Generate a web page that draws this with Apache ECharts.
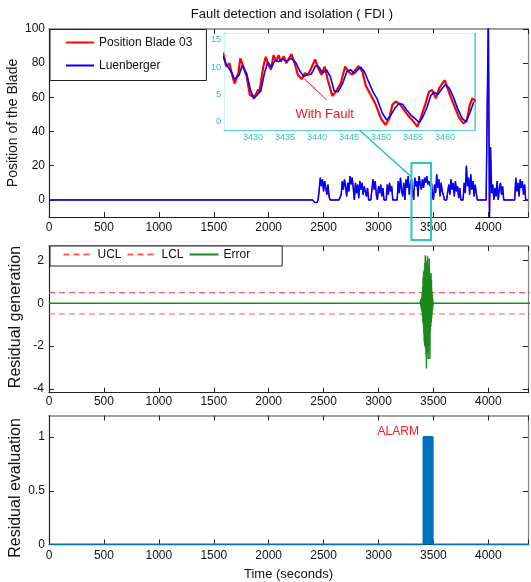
<!DOCTYPE html>
<html>
<head>
<meta charset="utf-8">
<script src="https://cdn.jsdelivr.net/npm/echarts@6/dist/echarts.min.js"></script>
<style>html,body{margin:0;padding:0;background:#fff}#c{width:531px;height:582px}</style>
</head>
<body>
<div id="c"></div>
<script>
// ---------------- DATA ----------------
const xTicks = [0, 500, 1000, 1500, 2000, 2500, 3000, 3500, 4000];
const posTickLabels = [0, 20, 40, 60, 80, 100];
const resTickLabels = [-4, -2, 0, 2];
const evalTickLabels = [0, 0.5, 1];
const insetXTicks = [3430, 3435, 3440, 3445, 3450, 3455, 3460];
const insetYTicks = [0, 5, 10, 15];

// Blade position (top panel): zero until 2400 s, then sampled every 10 s
const bladeStart = 2400, bladeStep = 10;
const bladePosition = [
  0, 0, -1.5, -1, -1.5, 0, 6, 13, 8, 12,
  5, 11, 7, 3, 9, 2, 0, 0, 0, 0,
  0, 0, 0, 0, 0, 0, 3, 11, 6, 12,
  8, 2, 10, 5, 14, 9, 13, 7, 0, 10,
  4, 9, 1, 11, 6, 10, 3, 8, 5, 2,
  7, 0, 0, 0, 0, 12, 6, 11, 3, 0,
  8, 4, 9, 2, 7, 0, 0, 0, 9, 3,
  10, 5, 8, 0, 0, 0, 0, 0, 11, 4,
  13, 6, 2, 10, 0, 12, 7, 14, 3, 9,
  12, 5, 0, 13, 8, 11, 2, 14, 9, 6,
  12, 7, 13, 10, 14, 9, 11, 8, 12, 3,
  0, 9, 4, 15, 7, 12, 2, 10, 5, 3,
  0, 0, 0, 0, 9, 3, 12, 6, 10, 2,
  11, 5, 8, 1, 7, 0, 0, 0, 10, 4,
  20, 8, 13, 3, 15, 6, 11, 2, 9, 4,
  0, 0, 0, 0, 0, 0, 0, 0, 0, 0,
  110, -12, 31, 4, 9, 0, 7, 2, 11, 0,
  6, 10, 3, 8, 0, 0, 0, 0, 0, 0,
  0, 0, 0, 0, 0, 13, 5, 10, 2, 12,
  7, 11, 3, 9, 0, 0, 0
];

// Inset (zoom on 3425–3465 s)
const insetPosTime = [3425.3,3425.8,3426.3,3426.6,3427.1,3427.7,3428.0,3428.3,3429.0,3429.5,3430.0,3430.4,3430.8,3431.0,3431.6,3432.0,3432.4,3432.8,3433.2,3433.6,3434.0,3434.3,3434.8,3435.2,3436.0,3436.5,3437.0,3437.6,3438.1,3438.6,3439.1,3439.7,3440.2,3440.7,3441.2,3441.7,3442.4,3443.1,3443.7,3444.4,3444.9,3445.5,3446.0,3446.5,3447.1,3447.6,3448.4,3449.2,3450.0,3450.7,3451.3,3451.8,3452.3,3452.9,3453.4,3454.2,3454.9,3455.7,3456.2,3457.0,3457.5,3458.0,3458.6,3459.1,3459.6,3460.0,3460.6,3461.4,3462.2,3462.9,3463.4,3463.9,3464.3,3464.8];
const insetPosValue = [12.7,10.1,10.7,9.2,7.0,8.9,11.6,10.7,8.3,4.9,4.6,4.9,5.9,5.5,10.1,11.9,10.4,9.5,12.2,11.0,12.2,11.0,12.0,10.7,12.4,10.7,8.6,7.8,8.9,8.6,9.8,11.4,9.8,8.6,10.1,7.6,4.7,5.8,7.0,10.1,9.2,8.6,9.5,10.2,9.2,6.7,4.9,3.1,0.6,-0.6,0.6,3.1,3.7,3.3,2.5,1.2,0.3,-0.9,0.6,3.4,5.5,5.8,4.3,6.1,7.0,7.6,5.5,3.1,0.8,-0.3,0.1,3.1,4.3,3.7];
const insetLuenTime = [3425.3,3425.8,3426.5,3427.1,3427.8,3428.3,3429.0,3429.6,3430.1,3430.7,3431.2,3431.8,3432.3,3432.9,3433.4,3434.0,3434.6,3435.2,3436.0,3436.7,3437.3,3437.9,3438.5,3439.1,3439.8,3440.3,3440.9,3441.5,3442.1,3442.7,3443.3,3444.0,3444.7,3445.3,3445.8,3446.3,3446.8,3447.4,3448.0,3448.7,3449.4,3450.2,3450.9,3451.5,3452.2,3452.8,3453.4,3454.0,3454.7,3455.4,3456.0,3456.6,3457.2,3457.8,3458.3,3458.9,3459.5,3460.1,3460.7,3461.3,3462.0,3462.7,3463.3,3463.9,3464.5];
const insetLuenValue = [12.0,10.5,9.3,7.8,8.5,10.3,8.8,5.8,4.2,5.0,5.6,9.0,10.9,10.0,11.2,11.0,11.5,11.1,11.6,10.8,9.3,8.3,8.6,8.7,10.3,10.0,8.9,9.5,8.2,5.6,5.5,7.0,9.3,9.5,8.8,9.4,10.0,9.2,7.5,5.6,4.2,1.6,0.3,1.1,2.5,3.3,3.2,2.2,1.2,0.5,-0.2,1.0,2.6,4.8,5.4,5.0,6.0,6.8,6.1,4.6,2.4,0.6,0.0,1.6,3.6];

// Residual (error) burst, sampled every 2 s from 3380 s; zero elsewhere
const errorStart = 3380, errorStep = 2;
const errorValue = [
  0, 0.1, -0.1, 0.2, -0.2, 0.1, -0.3, 0.3, -0.4, 0.5,
  -0.6, 0.8, -0.9, 1.2, -1.0, 1.5, -1.4, 1.3, -1.8, 1.6,
  -2.0, 1.9, -1.7, 2.25, -2.1, 1.8, -2.4, 1.7, -3.05, 1.9,
  -2.2, 2.0, -1.9, 2.2, -2.3, 1.6, -2.6, 1.8, -2.0, 1.5,
  -1.8, 2.1, -1.5, 1.4, -2.6, 1.2, -1.3, 1.0, -1.1, 1.4,
  -0.9, 1.1, -0.7, 0.6, -0.5, 0.4, -0.3, 0.2, -0.1, 0
];
const uclValue = 0.5, lclValue = -0.5;

// Residual evaluation (alarm flag)
const alarmTime = [0, 3410, 3410, 3493, 3493, 4400];
const alarmValue = [0, 0, 1, 1, 0, 0];

// annotation anchors (data coordinates)
const zoomBoxTime = [3300, 3478], zoomBoxValue = [21.6, -23.4];
const connectorInset = [3446.6, -1.52], connectorMain = [3300, 13.5];
const faultArrow = [[3441.5, 4.0], [3437.9, 8.0]];
const faultLabel = [3441.2, 1.4];
const alarmLabel = [3180, 1.05];

// ---------------- CHART ----------------
const FONT = "'Liberation Sans', Arial, sans-serif";
const CYAN = '#2CC5C5';
const BLK = '#222';

const chart = echarts.init(document.getElementById('c'), null, {renderer: 'canvas'});

const mainMax = 4361;
function xAx(grid, pos, showLabel, margin, extra) {
  return Object.assign({
    type: 'value', gridIndex: grid, position: pos, min: 0, max: mainMax, interval: 500,
    splitLine: {show: false},
    axisLine: {show: true, onZero: false, lineStyle: {color: pos === 'top' ? '#808080' : BLK, width: pos === 'top' ? 1.5 : 1.2}},
    axisTick: {show: true, inside: true, length: 5, lineStyle: {color: BLK}},
    axisLabel: {show: showLabel, margin: margin, fontSize: 12, fontFamily: FONT, color: '#111',
      formatter: v => (v > 4000 ? '' : String(v))}
  }, extra || {});
}
function yAx(grid, pos, min, max, ticks, showLabel, margin) {
  return {
    type: 'value', gridIndex: grid, position: pos, min: min, max: max,
    splitLine: {show: false},
    axisLine: {show: true, onZero: false, lineStyle: {color: pos === 'right' ? '#808080' : BLK, width: 1.2}},
    axisTick: {show: true, inside: true, length: 5, customValues: ticks, lineStyle: {color: BLK}},
    axisLabel: {show: showLabel, margin: margin, fontSize: 12, fontFamily: FONT, color: '#111', customValues: ticks,
      formatter: v => String(v)}
  };
}
function insetX(pos, showLabel) {
  return {
    type: 'value', gridIndex: 1, position: pos, min: 3425.5, max: 3464.6,
    splitLine: {show: false},
    axisLine: {show: true, onZero: false, lineStyle: {color: CYAN, width: 1.5}},
    axisTick: {show: true, inside: true, length: 4, customValues: insetXTicks, lineStyle: {color: CYAN}},
    axisLabel: {show: showLabel, margin: 3, fontSize: 9, fontFamily: FONT, color: CYAN, customValues: insetXTicks,
      formatter: v => String(v)}
  };
}
function insetY(pos, showLabel) {
  return {
    type: 'value', gridIndex: 1, position: pos, min: -1.52, max: 16.2,
    splitLine: {show: false},
    axisLine: {show: true, onZero: false, lineStyle: {color: CYAN, width: 1.5}},
    axisTick: {show: true, inside: true, length: 4, customValues: insetYTicks, lineStyle: {color: CYAN}},
    axisLabel: {show: showLabel, margin: 3, fontSize: 9.5, fontFamily: FONT, color: CYAN, customValues: insetYTicks,
      formatter: v => String(v)}
  };
}

const bladeData = [[0, 0]].concat(bladePosition.map((v, i) => [bladeStart + i * bladeStep, v]));
const errorData = [[0, 0]].concat(errorValue.map((v, i) => [errorStart + i * errorStep, v]), [[4400, 0]]);
const insetPos = insetPosTime.map((t, i) => [t, insetPosValue[i]]);
const insetLuen = insetLuenTime.map((t, i) => [t, insetLuenValue[i]]);
const alarmData = alarmTime.map((t, i) => [t, alarmValue[i]]);

const legendCommon = {
  borderColor: BLK, borderWidth: 1, backgroundColor: '#fff', borderRadius: 0,
  textStyle: {fontSize: 12, fontFamily: FONT, color: '#111'}, selectedMode: false, z: 6,
  itemStyle: {opacity: 0}
};

const option = {
  animation: false,
  backgroundColor: '#fff',
  textStyle: {fontFamily: FONT},
  title: {
    text: 'Fault detection and isolation ( FDI )', left: 292, top: 8, textAlign: 'center', padding: 0,
    textStyle: {fontSize: 13, fontWeight: 'normal', color: '#111', fontFamily: FONT}
  },
  grid: [
    {left: 49, top: 29, width: 483, height: 188},
    {left: 224.3, top: 33.3, width: 250, height: 96.7, show: true, backgroundColor: '#fff', borderWidth: 0, z: 5},
    {left: 49, top: 246, width: 483, height: 146.7},
    {left: 49, top: 415.5, width: 483, height: 130}
  ],
  legend: [
    Object.assign({
      data: ['Position Blade 03', 'Luenberger'], orient: 'vertical', left: 50, top: 29.5,
      padding: [7, 14, 9, 15], itemGap: 11, itemWidth: 28, itemHeight: 14
    }, legendCommon),
    Object.assign({
      data: ['UCL', 'LCL', 'Error'], orient: 'horizontal', left: 50, top: 246,
      padding: [2.5, 32, 5.5, 12.5], itemGap: 5, itemWidth: 29, itemHeight: 14
    }, legendCommon)
  ],
  xAxis: [
    xAx(0, 'bottom', true, 5),
    xAx(0, 'top', false, 5),
    insetX('bottom', true),
    insetX('top', false),
    xAx(2, 'bottom', true, 2.5),
    xAx(2, 'top', false, 2),
    xAx(3, 'bottom', true, 5.5, {name: 'Time (seconds)', nameLocation: 'middle', nameGap: 23.5,
      nameTextStyle: {fontSize: 13, fontFamily: FONT, color: '#111'}}),
    xAx(3, 'top', false, 2)
  ],
  yAxis: [
    yAx(0, 'left', -10, 100, posTickLabels, true, 4),
    yAx(0, 'right', -10, 100, posTickLabels, false, 4),
    insetY('left', true),
    insetY('right', false),
    yAx(2, 'left', -4.18, 2.68, resTickLabels, true, 5),
    yAx(2, 'right', -4.18, 2.68, resTickLabels, false, 5),
    yAx(3, 'left', 0, 1.2, evalTickLabels, true, 4),
    yAx(3, 'right', 0, 1.2, evalTickLabels, false, 4)
  ],
  series: [
    {name: 'Position Blade 03', type: 'line', xAxisIndex: 0, yAxisIndex: 0, data: bladeData, symbol: 'none',
      lineStyle: {color: '#FF0000', width: 1.1}, itemStyle: {color: '#FF0000'}, z: 2},
    {name: 'Luenberger', type: 'line', xAxisIndex: 0, yAxisIndex: 0, data: bladeData, symbol: 'none',
      lineStyle: {color: '#0000FF', width: 1.5}, itemStyle: {color: '#0000FF'}, z: 3},
    {name: 'insetPosition', type: 'line', xAxisIndex: 2, yAxisIndex: 2, data: insetPos, symbol: 'none',
      lineStyle: {color: '#FF0000', width: 2.2}, z: 6,
      markPoint: {symbol: 'circle', symbolSize: 1, itemStyle: {color: 'rgba(0,0,0,0)'},
        label: {show: true, position: 'inside', formatter: 'With Fault', color: '#F01818', fontSize: 13, fontFamily: FONT},
        data: [{coord: faultLabel}]},
      markLine: {silent: true, symbol: ['none', 'arrow'], symbolSize: [0, 8], label: {show: false},
        lineStyle: {color: '#F01818', width: 1, type: 'solid'},
        data: [[{coord: faultArrow[0]}, {coord: faultArrow[1]}]]}},
    {name: 'insetLuenberger', type: 'line', xAxisIndex: 2, yAxisIndex: 2, data: insetLuen, symbol: 'none',
      lineStyle: {color: '#0000FF', width: 1.6}, z: 7},
    {name: 'UCL', type: 'line', xAxisIndex: 4, yAxisIndex: 4, data: [[0, uclValue], [4400, uclValue]], symbol: 'none',
      lineStyle: {color: '#FF5A5A', width: 1.2, type: [6, 4]}, itemStyle: {color: '#FF5A5A'}},
    {name: 'LCL', type: 'line', xAxisIndex: 4, yAxisIndex: 4, data: [[0, lclValue], [4400, lclValue]], symbol: 'none',
      lineStyle: {color: '#FF5A5A', width: 1.2, type: [6, 4]}, itemStyle: {color: '#FF5A5A'}},
    {name: 'Error', type: 'line', xAxisIndex: 4, yAxisIndex: 4, data: errorData, symbol: 'none',
      lineStyle: {color: '#1A8A1A', width: 1.5}, itemStyle: {color: '#1A8A1A'}, z: 3},
    {name: 'Alarm', type: 'line', xAxisIndex: 6, yAxisIndex: 6, data: alarmData, symbol: 'none',
      lineStyle: {color: '#0072BD', width: 2}, areaStyle: {color: '#0072BD', opacity: 1, origin: 'start'},
      markPoint: {symbol: 'circle', symbolSize: 1, itemStyle: {color: 'rgba(0,0,0,0)'},
        label: {show: true, position: 'inside', formatter: 'ALARM', color: '#FF1A1A', fontSize: 12, fontFamily: FONT},
        data: [{coord: alarmLabel}]}}
  ]
};
chart.setOption(option);

// overlays: zoom rectangle, connector, axis titles
const p1 = chart.convertToPixel({gridIndex: 0}, [zoomBoxTime[0], zoomBoxValue[0]]);
const p2 = chart.convertToPixel({gridIndex: 0}, [zoomBoxTime[1], zoomBoxValue[1]]);
const c1 = chart.convertToPixel({gridIndex: 1}, connectorInset);
const c2 = chart.convertToPixel({gridIndex: 0}, connectorMain);
chart.setOption({
  graphic: [
    {type: 'rect', shape: {x: p1[0], y: p1[1], width: p2[0] - p1[0], height: p2[1] - p1[1]},
      style: {fill: 'none', stroke: CYAN, lineWidth: 2}, z: 20},
    {type: 'line', shape: {x1: c1[0], y1: c1[1], x2: c2[0], y2: c2[1]},
      style: {stroke: CYAN, lineWidth: 1.5}, z: 20},
    {type: 'text', x: 13.5, y: 123, rotation: Math.PI / 2,
      style: {text: 'Position of the Blade', font: '14px ' + FONT, fill: '#111', align: 'center', verticalAlign: 'middle'}},
    {type: 'text', x: 16, y: 317, rotation: Math.PI / 2,
      style: {text: 'Residual generation', font: '16px ' + FONT, fill: '#111', align: 'center', verticalAlign: 'middle'}},
    {type: 'text', x: 16, y: 488, rotation: Math.PI / 2,
      style: {text: 'Residual evaluation', font: '16px ' + FONT, fill: '#111', align: 'center', verticalAlign: 'middle'}}
  ]
});
</script>
</body>
</html>
